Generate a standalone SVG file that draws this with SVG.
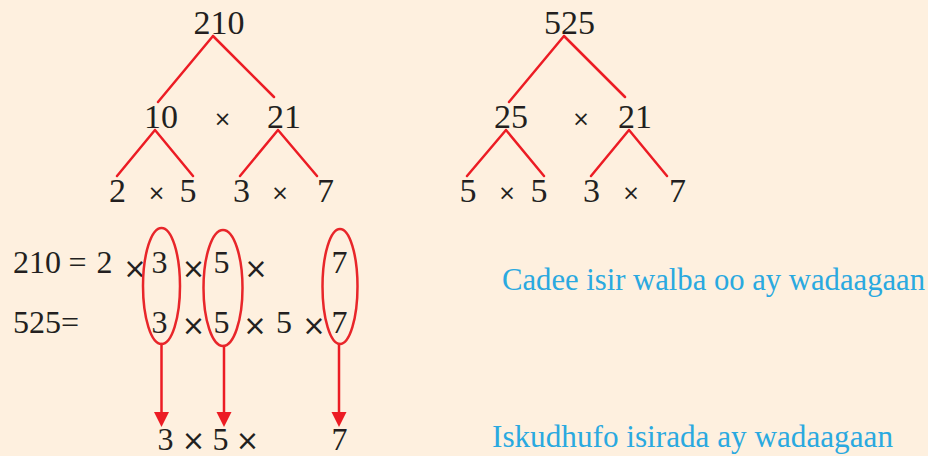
<svg xmlns="http://www.w3.org/2000/svg" width="928" height="456" viewBox="0 0 928 456">
<style>
.t{font-family:"Liberation Serif","Times New Roman",serif;fill:#231f20;text-anchor:middle}
.n{font-size:34px}
.e{font-size:32px}
.x{font-family:"DejaVu Sans",sans-serif;font-size:21px}
.xe{font-family:"DejaVu Sans",sans-serif;font-size:28px}
.b{font-family:"Liberation Serif","Times New Roman",serif;font-size:31px;fill:#2aa9e0}
.l{stroke:#ec1c24;stroke-width:2.5;fill:none;stroke-linecap:round}
.o{stroke:#e8262a;stroke-width:2.5;fill:none}
.h{fill:#ec1c24}
</style>
<rect width="928" height="456" fill="#fef0df"/>
<g id="connectors">
<path class="l" d="M213,36 L158,102 M213,36 L274,97 M155,130 L117,176 M155,130 L193,176 M278,130 L240,176 M278,130 L317,176"/>
<path class="l" d="M564,36 L509,102 M564,36 L625,97 M506,130 L467,176 M506,130 L544,176 M629,130 L591,176 M629,130 L667,176"/>
<path class="l" d="M161.5,344 V413 M224,346 V413 M339,344 V413"/>
<polygon class="h" points="154,412 169,412 161.5,427"/>
<polygon class="h" points="216.5,412 231.5,412 224,427"/>
<polygon class="h" points="331.5,412 346.5,412 339,427"/>
</g>
<g id="tree-210">
<text class="t n" x="219" y="34">210</text>
<text class="t n" x="161" y="128">10</text>
<text class="t x" x="222.5" y="126">×</text>
<text class="t n" x="284" y="128">21</text>
<text class="t n" x="117.5" y="202">2</text>
<text class="t x" x="156.5" y="200">×</text>
<text class="t n" x="188" y="202">5</text>
<text class="t n" x="241.5" y="202">3</text>
<text class="t x" x="280" y="200">×</text>
<text class="t n" x="325.5" y="202">7</text>
</g>
<g id="tree-525">
<text class="t n" x="569.5" y="34">525</text>
<text class="t n" x="511" y="128">25</text>
<text class="t x" x="581" y="126">×</text>
<text class="t n" x="635" y="128">21</text>
<text class="t n" x="468" y="202">5</text>
<text class="t x" x="507" y="200">×</text>
<text class="t n" x="539" y="202">5</text>
<text class="t n" x="591.5" y="202">3</text>
<text class="t x" x="631" y="200">×</text>
<text class="t n" x="677.5" y="202">7</text>
</g>
<g id="eq-210">
<text class="t e" x="13" y="273" style="text-anchor:start">210</text>
<text class="t e" x="77.5" y="273">=</text>
<text class="t e" x="104.5" y="273">2</text>
<text class="t xe" x="135" y="278">×</text>
<text class="t e" x="159.5" y="273">3</text>
<text class="t xe" x="193.5" y="278">×</text>
<text class="t e" x="221.5" y="273">5</text>
<text class="t xe" x="256" y="278">×</text>
<text class="t e" x="339.5" y="273">7</text>
</g>
<g id="eq-525">
<text class="t e" x="13" y="333" style="text-anchor:start">525=</text>
<text class="t e" x="159.5" y="333">3</text>
<text class="t xe" x="193.5" y="334.5">×</text>
<text class="t e" x="221.5" y="333">5</text>
<text class="t xe" x="255" y="334.5">×</text>
<text class="t e" x="284" y="333">5</text>
<text class="t xe" x="314" y="334.5">×</text>
<text class="t e" x="339.5" y="333">7</text>
</g>
<g id="circles">
<ellipse class="o" cx="161.5" cy="286" rx="18.5" ry="58"/>
<ellipse class="o" cx="223" cy="288" rx="19.5" ry="58"/>
<ellipse class="o" cx="340" cy="286.5" rx="17.5" ry="57.5"/>
</g>
<g id="result">
<text class="t e" x="165.5" y="450">3</text>
<text class="t xe" x="193.5" y="450">×</text>
<text class="t e" x="220.5" y="450">5</text>
<text class="t xe" x="247.5" y="450">×</text>
<text class="t e" x="339.5" y="450">7</text>
</g>
<g id="labels">
<text class="b" x="502" y="290" textLength="423" lengthAdjust="spacingAndGlyphs">Cadee isir walba oo ay wadaagaan</text>
<text class="b" x="492" y="447" textLength="401" lengthAdjust="spacingAndGlyphs">Iskudhufo isirada ay wadaagaan</text>
</g>
</svg>
